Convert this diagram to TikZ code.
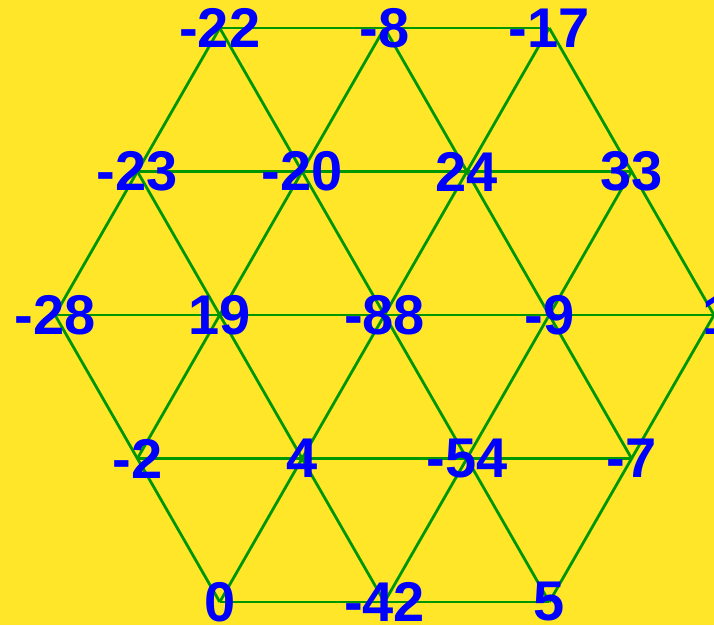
\documentclass[tikz,border=0pt]{standalone}
\usepackage{fontspec}
\setmainfont{Liberation Sans}
\definecolor{bgyellow}{RGB}{255,230,40}
\definecolor{gridgreen}{RGB}{0,150,0}
\definecolor{labelblue}{RGB}{0,0,255}
\begin{document}
\begin{tikzpicture}[x=1pt,y=1pt,
  edge/.style={draw=gridgreen,line width=2.8pt},
  lbl/.style={text=labelblue,font=\fontsize{56}{60}\selectfont\bfseries,inner sep=0pt,anchor=center}]
\fill[bgyellow] (0,0) rectangle (714,625);
\useasboundingbox (0,0) rectangle (714,625);
\clip (0,0) rectangle (714,625);
% vertices
\coordinate (v00) at (219.75,597);
\coordinate (v01) at (384.5,597);
\coordinate (v02) at (549.25,597);
\coordinate (v10) at (137.4,453.5);
\coordinate (v11) at (302.1,453.5);
\coordinate (v12) at (466.9,453.5);
\coordinate (v13) at (631.6,453.5);
\coordinate (v20) at (55,310);
\coordinate (v21) at (219.75,310);
\coordinate (v22) at (384.5,310);
\coordinate (v23) at (549.25,310);
\coordinate (v24) at (714,310);
\coordinate (v30) at (137.4,166.5);
\coordinate (v31) at (302.1,166.5);
\coordinate (v32) at (466.9,166.5);
\coordinate (v33) at (631.6,166.5);
\coordinate (v40) at (219.75,23);
\coordinate (v41) at (384.5,23);
\coordinate (v42) at (549.25,23);
% horizontal edges
\draw[edge] (v00) -- (v02);
\draw[edge] (v10) -- (v13);
\draw[edge] (v20) -- (v24);
\draw[edge] (v30) -- (v33);
\draw[edge] (v40) -- (v42);
% diagonal edges, upper half
\foreach \i [evaluate=\i as \j using int(\i+1)] in {0,1,2}
  {\draw[edge] (v0\i) -- (v1\i); \draw[edge] (v0\i) -- (v1\j);}
\foreach \i [evaluate=\i as \j using int(\i+1)] in {0,1,2,3}
  {\draw[edge] (v1\i) -- (v2\i); \draw[edge] (v1\i) -- (v2\j);}
% diagonal edges, lower half
\foreach \i [evaluate=\i as \j using int(\i+1)] in {0,1,2,3}
  {\draw[edge] (v3\i) -- (v2\i); \draw[edge] (v3\i) -- (v2\j);}
\foreach \i [evaluate=\i as \j using int(\i+1)] in {0,1,2}
  {\draw[edge] (v4\i) -- (v3\i); \draw[edge] (v4\i) -- (v3\j);}
% labels
\node[lbl] (l00) at (v00) {-22};
\node[lbl] (l01) at (v01) {-8};
\node[lbl] (l02) at (v02) {-17};
\node[lbl] (l10) at (v10) {-23};
\node[lbl] (l11) at (v11) {-20};
\node[lbl] (l12) at (v12) {24};
\node[lbl] (l13) at (v13) {33};
\node[lbl] (l20) at (v20) {-28};
\node[lbl] (l21) at (v21) {19};
\node[lbl] (l22) at (v22) {-88};
\node[lbl] (l23) at (v23) {-9};
\node[lbl,xshift=4pt] (l24) at (v24) {1};
\node[lbl] (l30) at (v30) {-2};
\node[lbl] (l31) at (v31) {4};
\node[lbl] (l32) at (v32) {-54};
\node[lbl] (l33) at (v33) {-7};
\node[lbl] (l40) at (v40) {0};
\node[lbl] (l41) at (v41) {-42};
\node[lbl] (l42) at (v42) {5};
\end{tikzpicture}
\end{document}
